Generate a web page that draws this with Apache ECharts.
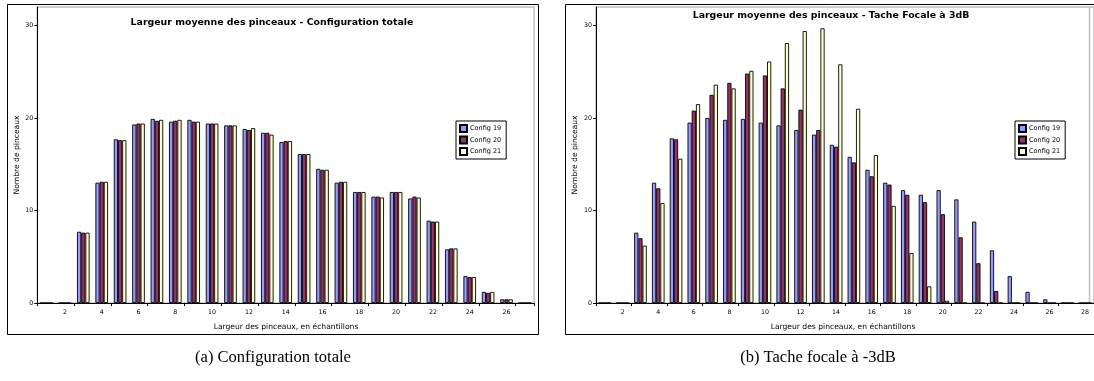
<!DOCTYPE html>
<html>
<head>
<meta charset="utf-8">
<script src="https://cdn.jsdelivr.net/npm/echarts@6/dist/echarts.min.js"></script>
<style>
html,body{margin:0;padding:0;background:#fff;}
#c{width:1094px;height:381px;}
</style>
</head>
<body>
<div id="c"></div>
<script>
// ---- data ----
const categoriesA = ['1','2','3','4','5','6','7','8','9','10','11','12','13','14','15','16','17','18','19','20','21','22','23','24','25','26','27'];
const categoriesB = ['1','2','3','4','5','6','7','8','9','10','11','12','13','14','15','16','17','18','19','20','21','22','23','24','25','26','27','28'];
const seriesNames = ['Config 19', 'Config 20', 'Config 21'];
const yTicks = [0, 10, 20, 30];

const totalConfig19 = [0,0,7.7,13.0,17.7,19.3,19.9,19.6,19.8,19.4,19.2,18.8,18.4,17.4,16.1,14.5,13.0,12.0,11.5,12.0,11.3,8.9,5.8,2.9,1.2,0.4,0];
const totalConfig20 = [0,0,7.6,13.1,17.6,19.4,19.7,19.7,19.6,19.4,19.2,18.7,18.4,17.5,16.1,14.4,13.1,12.0,11.5,12.0,11.5,8.8,5.9,2.8,1.1,0.4,0];
const totalConfig21 = [0,0,7.6,13.1,17.6,19.4,19.8,19.8,19.6,19.4,19.2,18.9,18.2,17.5,16.1,14.4,13.1,12.0,11.4,12.0,11.4,8.8,5.9,2.8,1.2,0.4,0];

const focalConfig19 = [0,0,7.6,13.0,17.8,19.5,20.0,19.8,19.9,19.5,19.2,18.7,18.2,17.1,15.8,14.4,13.0,12.2,11.7,12.2,11.2,8.8,5.7,2.9,1.2,0.4,0,0];
const focalConfig20 = [0,0,7.0,12.4,17.7,20.8,22.5,23.8,24.8,24.6,23.2,20.9,18.7,16.9,15.2,13.7,12.8,11.7,10.9,9.6,7.1,4.3,1.3,0,0,0,0,0];
const focalConfig21 = [0,0,6.2,10.8,15.6,21.5,23.6,23.2,25.1,26.1,28.1,29.4,29.7,25.8,21.0,16.0,10.5,5.4,1.8,0.25,0,0,0,0,0,0,0,0];

const titleA = 'Largeur moyenne des pinceaux - Configuration totale';
const titleB = 'Largeur moyenne des pinceaux - Tache Focale à 3dB';
const xName = 'Largeur des pinceaux, en échantillons';
const yName = 'Nombre de pinceaux';
const captionA = '(a) Configuration totale';
const captionB = '(b) Tache focale à -3dB';

// ---- styles ----
const colors = ['#9999FF', '#993366', '#FFFFCC'];
const FONT = 'DejaVu Sans';

function xAxis(gridIndex, cats) {
  return {
    type: 'category', gridIndex, data: cats,
    boundaryGap: true,
    axisLine: { lineStyle: { color: '#000', width: 1 } },
    axisTick: { show: true, length: 3, interval: (i) => i % 2 === 0, lineStyle: { color: '#000' } },
    axisLabel: { interval: (i) => i % 2 === 1, fontSize: 6.3, color: '#000', fontFamily: FONT, margin: 6 },
    splitLine: { show: false }
  };
}
function yAxis(gridIndex) {
  return {
    type: 'value', gridIndex, min: 0, max: 32,
    axisLine: { show: true, lineStyle: { color: '#000', width: 1 } },
    axisTick: { show: true, length: 3, customValues: yTicks, lineStyle: { color: '#000' } },
    axisLabel: { customValues: yTicks, fontSize: 6.3, color: '#000', fontFamily: FONT, margin: 4 },
    splitLine: { show: false }
  };
}
function bars(idx, data, k) {
  return {
    type: 'bar', name: seriesNames[k], xAxisIndex: idx, yAxisIndex: idx,
    data: data, barWidth: 4.2, barGap: '0%',
    itemStyle: { color: colors[k], borderColor: '#000', borderWidth: 0.9 },
    emphasis: { disabled: true }, animation: false
  };
}
function legend(left) {
  return {
    data: seriesNames, orient: 'vertical', left: left, top: 121,
    icon: 'rect', itemWidth: 7, itemHeight: 7, itemGap: 2.5,
    padding: [3, 5, 3, 3], borderColor: '#000', borderWidth: 1,
    backgroundColor: '#fff',
    selectedMode: false,
    textStyle: { fontSize: 6.5, fontFamily: FONT, color: '#000', padding: [0, 0, 0, -2] }
  };
}

const chart = echarts.init(document.getElementById('c'), null, { renderer: 'canvas' });
chart.setOption({
  animation: false,
  backgroundColor: '#fff',
  title: [
    { text: titleA, left: 272, top: 18.5, textAlign: 'center',
      textStyle: { fontFamily: FONT, fontWeight: 'bold', fontSize: 9.4, color: '#000' }, padding: 0 },
    { text: titleB, left: 831, top: 11.5, textAlign: 'center',
      textStyle: { fontFamily: FONT, fontWeight: 'bold', fontSize: 9.4, color: '#000' }, padding: 0 }
  ],
  legend: [legend(456), legend(1015)],
  grid: [
    { left: 37.3, top: 7, width: 496.8, height: 296, show: true, borderColor: '#c0c0c0', borderWidth: 1.5, containLabel: false },
    { left: 596, top: 7, width: 501.2, height: 296, show: true, borderColor: '#c0c0c0', borderWidth: 1.5, containLabel: false }
  ],
  xAxis: [xAxis(0, categoriesA), xAxis(1, categoriesB)],
  yAxis: [yAxis(0), yAxis(1)],
  series: [
    bars(0, totalConfig19, 0), bars(0, totalConfig20, 1), bars(0, totalConfig21, 2),
    bars(1, focalConfig19, 0), bars(1, focalConfig20, 1), bars(1, focalConfig21, 2)
  ],
  graphic: [
    { type: 'rect', shape: { x: 7.5, y: 4.5, width: 531, height: 330 }, style: { fill: 'none', stroke: '#000', lineWidth: 1 }, silent: true, z: 0 },
    { type: 'rect', shape: { x: 565.5, y: 4.5, width: 545, height: 330 }, style: { fill: 'none', stroke: '#000', lineWidth: 1 }, silent: true, z: 0 },
    { type: 'line', shape: { x1: 1089.5, y1: 7, x2: 1089.5, y2: 303 }, style: { stroke: '#c0c0c0', lineWidth: 1.5 }, silent: true },
    { type: 'text', x: 17, y: 155, rotation: Math.PI / 2, style: { text: yName, font: '7.6px "DejaVu Sans"', fill: '#000', align: 'center', verticalAlign: 'middle' }, silent: true },
    { type: 'text', x: 575, y: 155, rotation: Math.PI / 2, style: { text: yName, font: '7.6px "DejaVu Sans"', fill: '#000', align: 'center', verticalAlign: 'middle' }, silent: true },
    { type: 'text', x: 286, y: 327, style: { text: xName, font: '7.6px "DejaVu Sans"', fill: '#000', align: 'center', verticalAlign: 'middle' }, silent: true },
    { type: 'text', x: 843, y: 327, style: { text: xName, font: '7.6px "DejaVu Sans"', fill: '#000', align: 'center', verticalAlign: 'middle' }, silent: true },
    { type: 'text', x: 273, y: 358, style: { text: captionA, font: '16.5px "Liberation Serif"', fill: '#000', align: 'center', verticalAlign: 'middle' }, silent: true },
    { type: 'text', x: 818, y: 358, style: { text: captionB, font: '16.5px "Liberation Serif"', fill: '#000', align: 'center', verticalAlign: 'middle' }, silent: true }
  ]
});
</script>
</body>
</html>
